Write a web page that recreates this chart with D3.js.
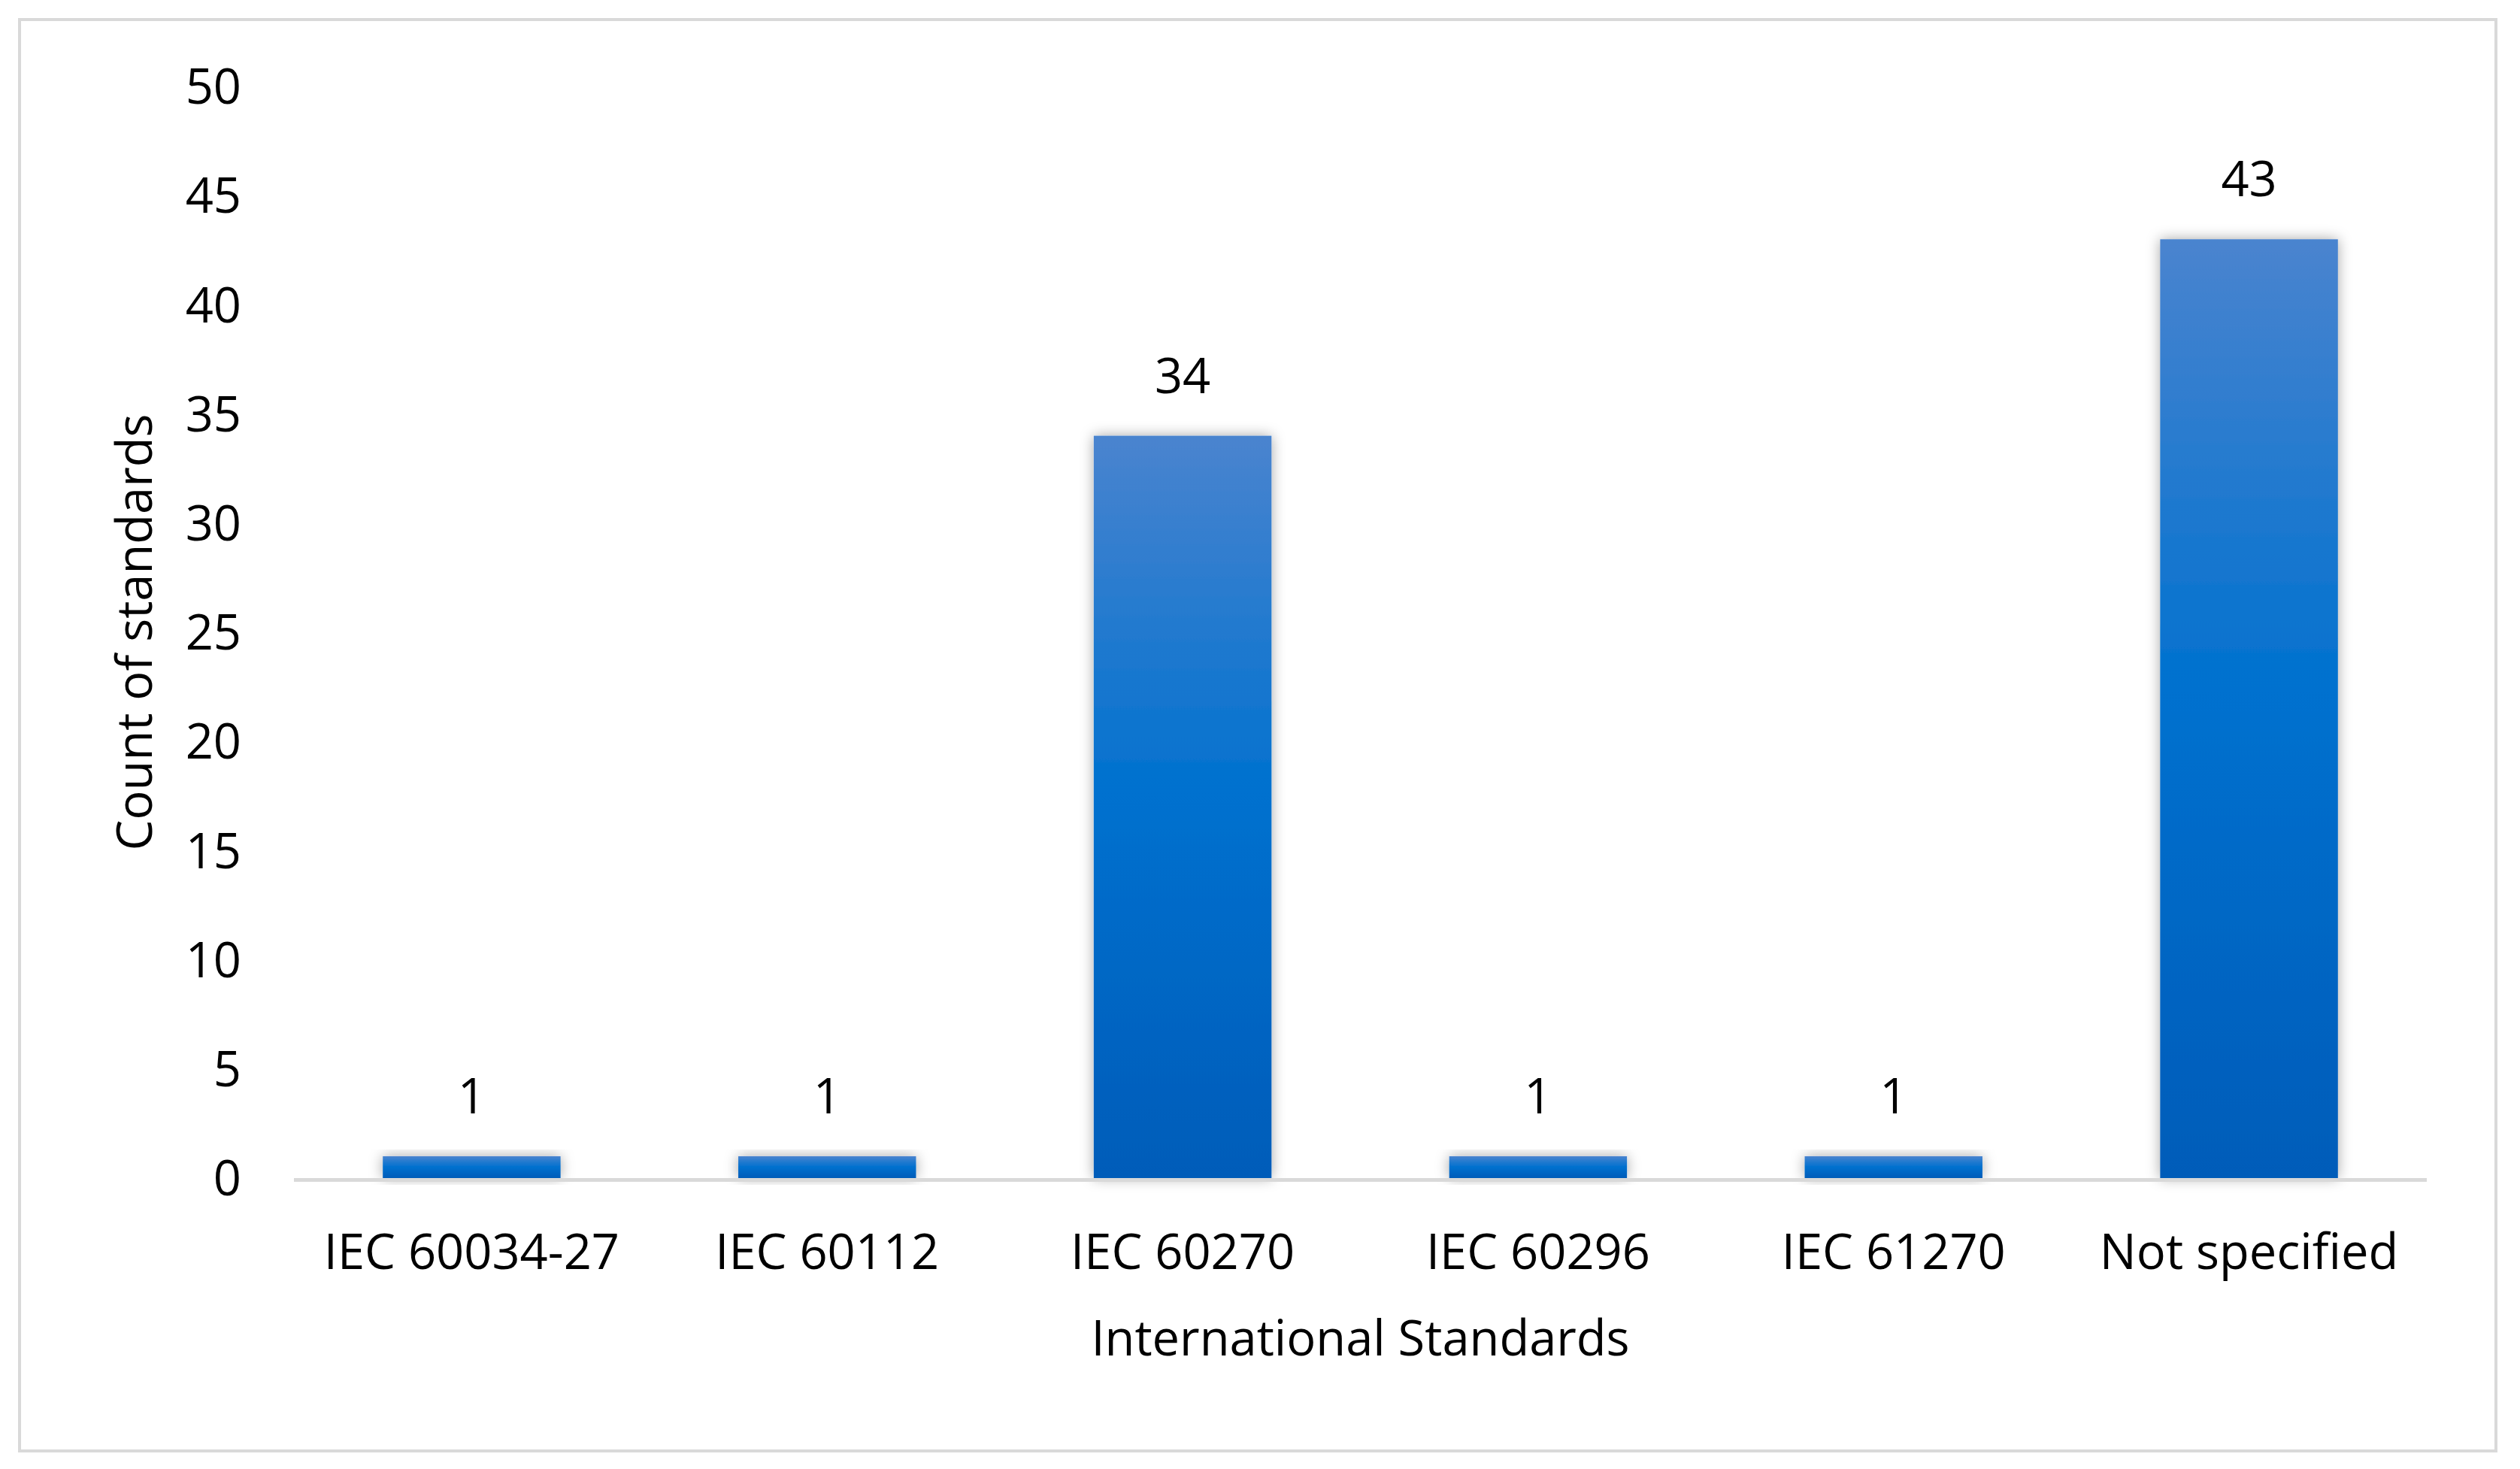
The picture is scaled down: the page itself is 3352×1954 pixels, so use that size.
<!DOCTYPE html>
<html>
<head>
<meta charset="utf-8">
<script src="https://cdn.jsdelivr.net/npm/d3@7"></script>
<style>
  body { margin: 0; background: #fff; }
  svg text { font-family: "Open Sans", "Noto Sans", sans-serif; fill: #000; }
</style>
</head>
<body>
<svg id="chart" width="3352" height="1954"></svg>
<script>
const categories = ["IEC 60034-27", "IEC 60112", "IEC 60270", "IEC 60296", "IEC 61270", "Not specified"];
const counts = [1, 1, 34, 1, 1, 43];
const yTicks = [0, 5, 10, 15, 20, 25, 30, 35, 40, 45, 50];

const svg = d3.select("#chart");
const plotLeft = 391, plotRight = 3228, plotTop = 115, plotBottom = 1567;

// outer frame
svg.append("rect")
  .attr("x", 26).attr("y", 26)
  .attr("width", 3294).attr("height", 1904)
  .attr("fill", "#fff")
  .attr("stroke", "#d9d9d9")
  .attr("stroke-width", 4);

const defs = svg.append("defs");
const grad = defs.append("linearGradient")
  .attr("id", "barGrad")
  .attr("x1", 0).attr("y1", 0).attr("x2", 0).attr("y2", 1);
grad.append("stop").attr("offset", "0%").attr("stop-color", "#4a84cf");
grad.append("stop").attr("offset", "48%").attr("stop-color", "#0071cf");
grad.append("stop").attr("offset", "100%").attr("stop-color", "#005cb9");

defs.append("filter")
  .attr("id", "shadow")
  .attr("x", "-30%").attr("y", "-30%").attr("width", "160%").attr("height", "160%")
  .append("feDropShadow")
  .attr("dx", 0).attr("dy", 0)
  .attr("stdDeviation", 9)
  .attr("flood-color", "#000")
  .attr("flood-opacity", 0.35);

const x = d3.scaleBand()
  .domain(categories)
  .range([plotLeft, plotRight])
  .paddingInner(0.5)
  .paddingOuter(0.25);

const y = d3.scaleLinear()
  .domain([0, 50])
  .range([plotBottom, plotTop]);

// y axis labels (no line)
const yAxis = d3.axisLeft(y).tickValues(yTicks).tickSize(0).tickPadding(0);
const yg = svg.append("g")
  .attr("transform", `translate(${321},0)`)
  .call(yAxis);
yg.select(".domain").remove();
yg.selectAll("text")
  .attr("font-size", 65)
  .attr("dy", "0.35em")
  .attr("font-family", null);
yg.attr("font-family", null).attr("font-size", null);

// bars
svg.append("g")
  .selectAll("rect")
  .data(counts)
  .join("rect")
  .attr("x", (d, i) => x(categories[i]))
  .attr("y", (d) => y(d))
  .attr("width", x.bandwidth())
  .attr("height", (d) => y(0) - y(d))
  .attr("fill", "url(#barGrad)")
  .attr("filter", "url(#shadow)");

// x axis
const xAxis = d3.axisBottom(x).tickSize(0).tickPadding(0);
const xg = svg.append("g")
  .attr("transform", `translate(0,${plotBottom})`)
  .call(xAxis);
xg.attr("font-family", null).attr("font-size", null);
xg.select(".domain")
  .attr("stroke", "#d9d9d9")
  .attr("stroke-width", 5)
  .attr("d", `M${plotLeft},2.5H${plotRight}`);
xg.selectAll("text")
  .attr("font-size", 65)
  .attr("y", 121)
  .attr("dy", null);

// value labels
svg.append("g")
  .selectAll("text")
  .data(counts)
  .join("text")
  .attr("x", (d, i) => x(categories[i]) + x.bandwidth() / 2)
  .attr("y", (d) => y(d) - 57)
  .attr("text-anchor", "middle")
  .attr("font-size", 65)
  .text((d) => d);

// axis titles
svg.append("text")
  .attr("x", (plotLeft + plotRight) / 2)
  .attr("y", 1803)
  .attr("text-anchor", "middle")
  .attr("font-size", 65)
  .text("International Standards");

svg.append("text")
  .attr("transform", `translate(202,${(plotTop + plotBottom) / 2}) rotate(-90)`)
  .attr("text-anchor", "middle")
  .attr("font-size", 65)
  .text("Count of standards");
</script>
</body>
</html>
